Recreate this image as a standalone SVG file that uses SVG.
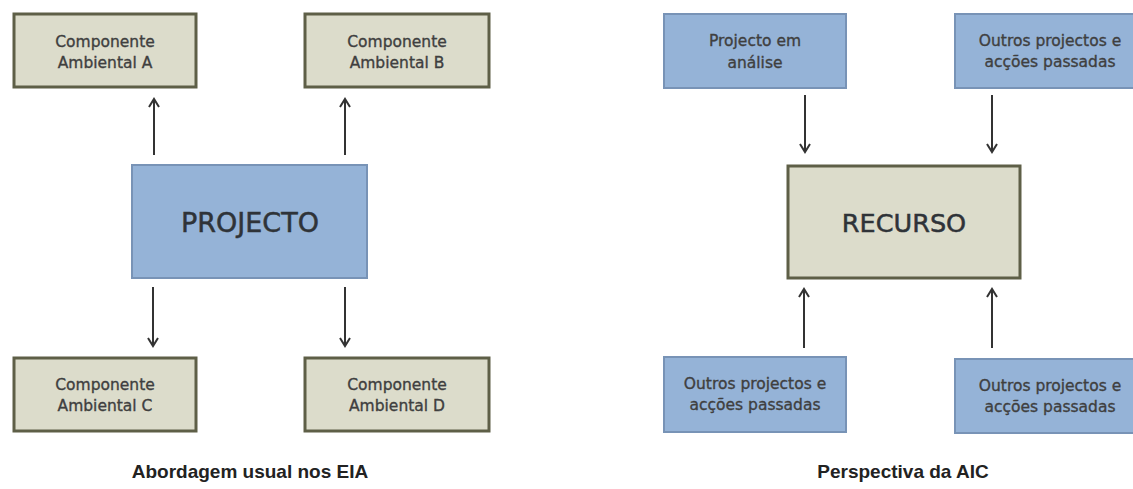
<svg xmlns="http://www.w3.org/2000/svg" width="1133" height="489" viewBox="0 0 1133 489">
<defs>
<style>
.beige{fill:#dcdccb;stroke:#5e5f47;stroke-width:3}
.blue{fill:#95b3d7;stroke:#7893b6;stroke-width:2}
.lbl{font-family:"DejaVu Sans",sans-serif;font-size:15.5px;fill:#3f3f3f;stroke:#3f3f3f;stroke-width:0.35;text-anchor:middle}
.big{font-family:"DejaVu Sans",sans-serif;fill:#2f3338;stroke:#2f3338;stroke-width:0.5;text-anchor:middle}
.cap{font-family:"Liberation Sans",Arial,sans-serif;font-size:19px;font-weight:bold;fill:#222;text-anchor:middle}
.arr{stroke:#333;stroke-width:2;fill:none;marker-end:url(#ah)}
</style>
<marker id="ah" viewBox="0 0 12 12" refX="10" refY="6" markerWidth="12" markerHeight="12" markerUnits="userSpaceOnUse" orient="auto">
<path d="M2,1 L10,6 L2,11" fill="none" stroke="#333" stroke-width="2"/>
</marker>
</defs>
<rect width="1133" height="489" fill="#fff"/>
<g id="connectors">
<line class="arr" x1="154" y1="155" x2="154" y2="99"/>
<line class="arr" x1="345" y1="155" x2="345" y2="99"/>
<line class="arr" x1="153" y1="287" x2="153" y2="346"/>
<line class="arr" x1="345" y1="287" x2="345" y2="346"/>
<line class="arr" x1="805" y1="95" x2="805" y2="152"/>
<line class="arr" x1="992" y1="95" x2="992" y2="152"/>
<line class="arr" x1="804" y1="348" x2="804" y2="289"/>
<line class="arr" x1="992" y1="348" x2="992" y2="289"/>
</g>
<g id="compA"><rect class="beige" x="14" y="14" width="182" height="73"/><text class="lbl" x="105" y="47">Componente</text><text class="lbl" x="105" y="68">Ambiental A</text></g>
<g id="compB"><rect class="beige" x="305" y="14" width="184" height="73"/><text class="lbl" x="397" y="47">Componente</text><text class="lbl" x="397" y="68">Ambiental B</text></g>
<g id="projecto"><rect class="blue" x="132" y="165" width="235" height="113"/><text class="big" x="250" y="232" font-size="27">PROJECTO</text></g>
<g id="compC"><rect class="beige" x="14" y="358" width="182" height="73"/><text class="lbl" x="105" y="390">Componente</text><text class="lbl" x="105" y="411">Ambiental C</text></g>
<g id="compD"><rect class="beige" x="305" y="358" width="184" height="73"/><text class="lbl" x="397" y="390">Componente</text><text class="lbl" x="397" y="411">Ambiental D</text></g>
<text class="cap" x="250" y="478">Abordagem usual nos EIA</text>
<g id="projAnalise"><rect class="blue" x="664" y="14" width="182" height="74"/><text class="lbl" x="755" y="46">Projecto em</text><text class="lbl" x="755" y="68">análise</text></g>
<g id="outrosTop"><rect class="blue" x="955" y="14" width="190" height="74"/><text class="lbl" x="1050" y="46">Outros projectos e</text><text class="lbl" x="1050" y="67">acções passadas</text></g>
<g id="recurso"><rect class="beige" x="788" y="166" width="232" height="112"/><text class="big" x="904" y="232" font-size="25.5">RECURSO</text></g>
<g id="outrosBL"><rect class="blue" x="664" y="357" width="182" height="75"/><text class="lbl" x="755" y="389">Outros projectos e</text><text class="lbl" x="755" y="410">acções passadas</text></g>
<g id="outrosBR"><rect class="blue" x="955" y="359" width="190" height="74"/><text class="lbl" x="1050" y="391">Outros projectos e</text><text class="lbl" x="1050" y="412">acções passadas</text></g>
<text class="cap" x="903" y="478">Perspectiva da AIC</text>
</svg>
